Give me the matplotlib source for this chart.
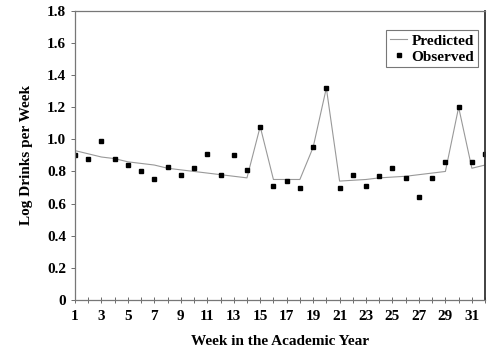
import matplotlib.pyplot as plt

# Observed vs predicted log drinks per week over the academic year

weeks = list(range(1, 33))
observed = [0.90, 0.88, 0.99, 0.88, 0.84, 0.80, 0.75, 0.83, 0.78, 0.82,
            0.91, 0.78, 0.90, 0.81, 1.08, 0.71, 0.74, 0.70, 0.95, 1.32,
            0.70, 0.78, 0.71, 0.77, 0.82, 0.76, 0.64, 0.76, 0.86, 1.20,
            0.86, 0.91]
predicted = [0.93, 0.91, 0.89, 0.88, 0.86, 0.85, 0.84, 0.82, 0.81, 0.80,
             0.79, 0.78, 0.77, 0.76, 1.08, 0.75, 0.75, 0.75, 0.95, 1.32,
             0.74, 0.745, 0.75, 0.76, 0.765, 0.77, 0.78, 0.79, 0.80, 1.20,
             0.82, 0.84]
xtick_labels = [1, 3, 5, 7, 9, 11, 13, 15, 17, 19, 21, 23, 25, 27, 29, 31]
yticks = [0, 0.2, 0.4, 0.6, 0.8, 1.0, 1.2, 1.4, 1.6, 1.8]

plt.rcParams['font.family'] = ['Liberation Serif', 'DejaVu Serif']
plt.rcParams['font.weight'] = 'bold'

fig = plt.figure(figsize=(4.9, 3.54), dpi=100)
ax = fig.add_axes([0.153, 0.153, 0.837, 0.816])

ax.plot(weeks, predicted, color='#999999', linewidth=0.8, label='Predicted')
ax.plot(weeks, observed, linestyle='none', marker='s', markersize=3.0,
        color='black', label='Observed')

ax.set_xlim(1, 32)
ax.set_ylim(0, 1.8)
ax.set_xticks(weeks, minor=True)
ax.set_xticks(xtick_labels)
ax.set_xticklabels([str(v) for v in xtick_labels], fontsize=11, fontweight='bold')
ax.set_yticks(yticks)
ax.set_yticklabels(['0' if v == 0 else f'{v:.1f}' for v in yticks],
                   fontsize=11, fontweight='bold')
ax.tick_params(axis='x', which='both', direction='inout', length=4, width=0.6,
               color='#555555', pad=5)
ax.tick_params(axis='y', direction='out', length=3, width=0.6, color='#555555')

for side in ['left', 'bottom', 'top']:
    ax.spines[side].set_color('#777777')
    ax.spines[side].set_linewidth(0.9)
ax.spines['right'].set_color('#333333')
ax.spines['right'].set_linewidth(1.3)

ax.set_xlabel('Week in the Academic Year', fontsize=11, fontweight='bold', labelpad=9)
ax.set_ylabel('Log Drinks per Week', fontsize=11, fontweight='bold', labelpad=10)

leg = ax.legend(loc='upper right', bbox_to_anchor=(0.983, 0.934), fontsize=11,
                frameon=True, fancybox=False, edgecolor='#555555',
                handlelength=1.1, handletextpad=0.3, borderpad=0.25,
                labelspacing=0.15, borderaxespad=0.0)
leg.get_frame().set_linewidth(0.8)

plt.savefig('out.png', dpi=100)
